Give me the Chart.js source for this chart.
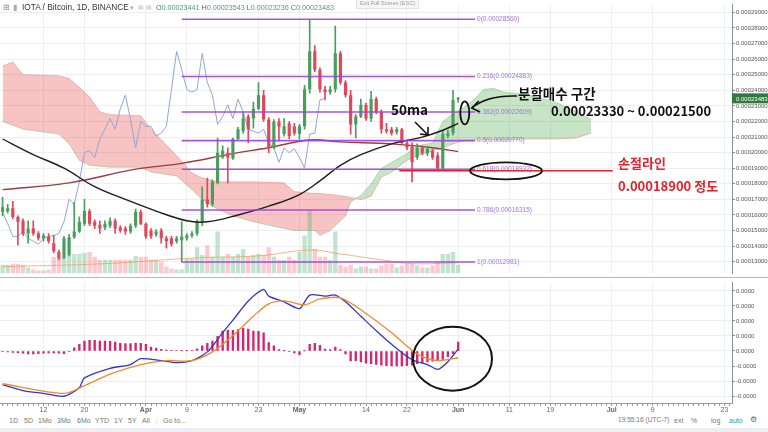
<!DOCTYPE html>
<html>
<head>
<meta charset="utf-8">
<script src="https://cdn.jsdelivr.net/npm/chart.js@4.4.0/dist/chart.umd.min.js"></script>
<style>
  html, body { margin: 0; padding: 0; background: #fff; }
  #wrap { position: relative; width: 768px; height: 432px; overflow: hidden; font-family: "Liberation Sans", Arial, sans-serif; }
  canvas { position: absolute; left: 0; }
  #price { top: 0; }
  #macd { top: 278px; }
  .t { position: absolute; white-space: nowrap; line-height: 1; }
  .hdr { font-size: 8.3px; color: #333; top: 3px; }
  .ohlc { font-size: 7.2px; color: #4b9d76; top: 4px; }
  .ohlc i { font-style: normal; color: #666; }
  .note { font-family: "Noto Sans CJK KR", "Noto Sans", sans-serif; font-weight: bold; color: #111; }
  .red { color: #e8202a; }
  .bar { font-size: 7px; color: #777; top: 417px; }
  #sep { position: absolute; left: 0; top: 277px; width: 768px; height: 1px; background: #b4b8be; }
  #foot { position: absolute; left: 0; top: 428px; width: 768px; height: 4px; background: #eceef1; }
  #exit { position: absolute; left: 356px; top: -1px; font-size: 5.5px; color: #999; background: #f6f6f6; border: 1px solid #e2e2e2; padding: 1px 3px; }
</style>
</head>
<body>
<div id="wrap">
  <canvas id="price" width="768" height="278"></canvas>
  <canvas id="macd" width="768" height="137"></canvas>
  <div id="sep"></div>
  <div id="foot"></div>

  <div class="t hdr" style="left:3px;color:#888">⊞</div>
  <div class="t hdr" style="left:13px;color:#aaa">▮</div>
  <div class="t hdr" style="left:22px">IOTA / Bitcoin, 1D, BINANCE</div>
  <div class="t hdr" style="left:130px;color:#aaa;font-size:7px;top:4px">▾</div>
  <div class="t hdr" style="left:138px;color:#ccc;font-size:6px;top:4px">▦ ▦</div>
  <div class="t ohlc" style="left:156px"><i>O</i>0.00023441 <i>H</i>0.00023543 <i>L</i>0.00023236 <i>C</i>0.00023483</div>
  <div id="exit" class="t">Exit Full Screen (ESC)</div>

  <div class="t note" style="left:518px;top:87px;font-size:13.5px">분할매수 구간</div>
  <div class="t note" style="left:551px;top:104px;font-size:13px">0.00023330 ~ 0.00021500</div>
  <div class="t note" style="left:391px;top:103px;font-size:13.5px">50ma</div>
  <div class="t note red" style="left:618px;top:156px;font-size:13px">손절라인</div>
  <div class="t note red" style="left:618px;top:179px;font-size:13px">0.00018900 정도</div>

  <div class="t bar" style="left:9px">1D</div>
  <div class="t bar" style="left:24px">5D</div>
  <div class="t bar" style="left:38px">1Mo</div>
  <div class="t bar" style="left:57px">3Mo</div>
  <div class="t bar" style="left:77px">6Mo</div>
  <div class="t bar" style="left:95px">YTD</div>
  <div class="t bar" style="left:114px">1Y</div>
  <div class="t bar" style="left:128px">5Y</div>
  <div class="t bar" style="left:142px">All</div>
  <div class="t bar" style="left:156px;color:#ddd">|</div>
  <div class="t bar" style="left:163px">Go to...</div>
  <div class="t bar" style="left:618px;font-size:6.6px">19:55:16 (UTC-7)</div>
  <div class="t bar" style="left:674px">ext</div>
  <div class="t bar" style="left:691px">%</div>
  <div class="t bar" style="left:711px">log</div>
  <div class="t bar" style="left:729px;color:#3d8bd6">auto</div>
  <div class="t bar" style="left:750px;color:#666;font-size:8px;top:416px">⚙</div>
</div>

<script>
// categories: one per day, Mar 4 – Jul 24 2018
const startDay = Date.UTC(2018, 2, 4);
const dayCount = 143;
const labels = [];
for (let i = 0; i < dayCount; i++) {
  labels.push(new Date(startDay + i * 864e5).toISOString().slice(0, 10));
}

const tickDates = ['2018-03-12', '2018-03-20', '2018-04-01', '2018-04-09', '2018-04-23', '2018-05-01',
  '2018-05-14', '2018-05-22', '2018-06-01', '2018-06-11', '2018-06-19', '2018-07-01', '2018-07-09', '2018-07-23'];
const tickTexts = ['12', '20', 'Apr', '9', '23', 'May', '14', '22', 'Jun', '11', '19', 'Jul', '9', '23'];
const monthTicks = ['Apr', 'May', 'Jun', 'Jul'];
const priceTicks = [13000, 14000, 15000, 16000, 17000, 18000, 19000, 20000, 21000,
  22000, 23000, 24000, 25000, 26000, 27000, 28000, 29000];
const macdTicks = [-3, -2, -1, 0, 1, 2, 3, 4];

// daily candles, prices in satoshi (1e-8 BTC)
const opens = [16188, 16250, 16438, 15875, 15625, 14813, 15125, 14813, 14500, 14625,
  14188, 13625, 13250, 13438, 14563, 14938, 15438, 16250, 15563, 15375,
  15188, 15313, 15625, 15188, 15125, 14938, 15313, 16188, 15438, 15000,
  14750, 15000, 14500, 14500, 14313, 14375, 14500, 14688, 14813, 15563,
  17000, 16688, 18063, 19688, 20000, 19625, 20875, 21375, 22313, 22188,
  22813, 23688, 22125, 20313, 22000, 21188, 21875, 21688, 21188, 21688,
  24063, 26500, 25313, 24063, 23875, 24063, 26375, 24500, 23688, 21813,
  22313, 23063, 22188, 23438, 22625, 21500, 21500, 21313, 21500, 20625,
  20438, 19688, 20313, 19938, 20125, 19813, 19000, 21063, 21250, 23441];
const highs = [17125, 16688, 16875, 15938, 15750, 15625, 15625, 14938, 14813, 14813,
  14688, 13750, 14625, 14750, 16813, 15875, 17000, 16375, 15688, 15625,
  15625, 15813, 15750, 15313, 15250, 15438, 16375, 16313, 15500, 15125,
  15063, 15125, 14625, 14625, 14625, 15563, 14813, 14938, 15688, 17813,
  18375, 18250, 20938, 20438, 20313, 20938, 21625, 22625, 22438, 23250,
  24500, 24000, 22250, 22125, 22188, 22188, 22000, 21875, 21813, 24313,
  28560, 26875, 25438, 24250, 24250, 28125, 26500, 24625, 24000, 22438,
  23438, 23188, 23938, 23563, 22750, 21875, 21625, 21625, 21563, 20750,
  20625, 20563, 20438, 20375, 20250, 20000, 21375, 21438, 24000, 23543];
const lows = [15938, 16125, 15750, 14063, 14688, 14188, 14688, 14375, 14313, 14188,
  13563, 13125, 13188, 13375, 14500, 14875, 15313, 15313, 15125, 14813,
  15063, 15188, 14813, 14875, 14750, 14813, 15188, 15375, 14500, 14500,
  14625, 14188, 13875, 14000, 14188, 12981, 14375, 14563, 14688, 15313,
  16500, 16563, 18000, 19625, 18063, 19563, 20813, 21250, 20625, 21563,
  22750, 22000, 20000, 20250, 20750, 21063, 20875, 21125, 20875, 21500,
  23813, 25188, 23875, 23375, 23750, 23875, 24375, 23563, 21188, 20938,
  22250, 22063, 22000, 22500, 21250, 21250, 21125, 21188, 20563, 20188,
  18125, 19563, 19875, 19813, 19563, 18875, 18875, 20938, 21125, 23236];
const closes = [16500, 16438, 15875, 15563, 14813, 15125, 14813, 14500, 14688, 14313,
  13688, 13250, 14500, 14563, 14938, 15563, 16250, 15438, 15313, 15125,
  15438, 15625, 15125, 15000, 14938, 15313, 16188, 15438, 14625, 14625,
  14938, 14500, 14313, 14125, 14500, 14625, 14688, 14813, 15563, 17000,
  16688, 18125, 20000, 20125, 19688, 20875, 21500, 22188, 21500, 22813,
  23688, 22125, 20313, 22000, 21688, 21688, 21063, 21250, 21688, 24063,
  26500, 25313, 24063, 23875, 24063, 26375, 24500, 23688, 21813, 22313,
  23063, 22188, 23438, 22625, 21500, 21375, 21250, 21500, 20625, 20313,
  19375, 20313, 20000, 20250, 19688, 19000, 21188, 21250, 23375, 23483];
const volumes = [9, 9, 10, 10, 9, 6, 4, 3, 3, 4,
  17, 17, 17, 19, 20, 20, 21, 22, 17, 14,
  14, 14, 14, 14, 14, 14, 18, 17, 17, 14,
  14, 12, 7, 5, 4, 4, 15, 15, 27, 19,
  29, 17, 43, 17, 20, 17, 20, 25, 17, 19,
  20, 19, 27, 17, 14, 14, 17, 14, 22, 39,
  65, 25, 17, 17, 14, 43, 9, 7, 9, 5,
  7, 7, 5, 5, 8, 10, 10, 6, 8, 10,
  10, 8, 6, 6, 8, 12, 20, 20, 22, 9];

// volume moving average (sparse readings)
const volMaIdx = [0, 20, 38, 50, 60, 66, 74, 80, 89];
const volMa = [7, 10, 16, 18, 24, 20, 14, 10, 11];

// Ichimoku cloud (leading spans), sparse readings
const cloudIdx = [0, 2, 4, 11, 13, 15, 17, 19, 21, 27, 29, 34, 37, 39, 42, 45, 49, 55, 57, 61, 62, 64, 67, 68, 69,
  70, 72, 74, 76, 79, 81, 84, 86, 88, 90, 92, 94, 96, 98, 102, 108, 112, 115];
const spanA = [22000, 21750, 21500, 21188, 20563, 19500, 19188, 19125, 19063, 19063, 18750, 18500, 17625, 17000, 16375,
  15938, 15563, 15125, 15000, 15000, 14688, 15000, 15938, 16813, 17063,
  17250, 18000, 19000, 19375, 19938, 20438, 20625, 22000, 22500, 22875, 23375, 24063, 24125, 23875, 23750, 23250, 22625, 22125];
const spanB = [25563, 25813, 25000, 24938, 24750, 24188, 23563, 22625, 22438, 22375, 21500, 19813, 18688, 18375, 18125,
  18125, 18125, 18063, 17500, 17375, 17375, 17313, 17188, 17125, 17063,
  17000, 17188, 18438, 18750, 19500, 19813, 20125, 20313, 20563, 20750, 20813, 20813, 20813, 20813, 20875, 20875, 20938, 21250];

// moving averages (sparse readings)
const ma50Idx = [0, 6, 12, 18, 24, 30, 36, 40, 46, 52, 58, 62, 66, 70, 76, 82, 86, 89];
const ma50 = [20875, 19875, 19000, 17813, 17000, 16250, 15625, 15563, 16000, 16563, 17313, 18188, 19188, 19875, 20563, 21000, 21438, 21875];
const maSlowIdx = [0, 13, 26, 35, 45, 52, 60, 66, 76, 84, 89];
const maSlow = [17625, 18063, 18938, 19313, 19938, 20313, 20813, 20688, 20563, 20313, 20063];
const chikouShift = 26;

// Fibonacci retracement and notes
const fibRatios = ['0', '0.236', '0.382', '0.5', '0.618', '0.786', '1'];
const fibLevels = [28560, 24883, 22609, 20770, 18932, 16315, 12981];
const fibFrom = 35, fibTo = 92.3;
const stopLevel = 18830, stopFrom = 77.5, stopTo = 119.2;
const buyZoneMid = 22550;

// MACD (units of 1e-6 BTC)
const macdHist = [-0.04, -0.06, -0.09, -0.11, -0.15, -0.19, -0.19, -0.17, -0.15, -0.13,
  -0.13, -0.15, -0.17, -0.04, 0.21, 0.45, 0.66, 0.71, 0.71, 0.66,
  0.66, 0.64, 0.60, 0.51, 0.49, 0.49, 0.53, 0.51, 0.45, 0.26,
  0.19, 0.11, 0.06, 0.04, 0.02, 0.01, 0.01, 0.04, 0.15, 0.34,
  0.51, 0.66, 0.98, 1.32, 1.37, 1.37, 1.43, 1.50, 1.45, 1.32,
  1.30, 1.20, 0.56, 0.34, 0.09, 0.01, -0.04, -0.13, -0.24, 0.01,
  0.45, 0.51, 0.38, 0.13, 0.09, 0.26, 0.09, -0.19, -0.66, -0.64,
  -0.73, -0.81, -0.85, -0.90, -0.94, -0.98, -1.00, -1.00, -1.00, -0.98,
  -0.94, -0.85, -0.77, -0.73, -0.68, -0.64, -0.56, -0.38, -0.17, 0.60];
const macdIdx = [0, 4, 8, 12, 15, 16, 21, 25, 27, 31, 34, 37, 40, 43, 45, 48, 51, 52, 55, 58, 60, 63, 65, 67, 70, 73, 76, 80, 83, 85, 87, 89];
const macdLine = [-2.24, -2.63, -2.82, -3.01, -2.44, -1.79, -1.15, -0.90, -0.51, -0.64, -0.77, -0.64, -0.06, 1.22, 2.05, 3.33,
  4.10, 3.65, 3.27, 2.82, 3.72, 3.65, 3.72, 3.27, 2.31, 1.35, 0.45, -0.58, -0.90, -1.22, -0.71, 0.13];
const signalIdx = [0, 12, 16, 21, 27, 32, 37, 41, 45, 49, 52, 55, 59, 62, 66, 71, 76, 81, 85, 89];
const signalLine = [-2.18, -2.82, -2.31, -1.54, -0.90, -0.64, -0.64, -0.06, 1.03, 2.31, 3.14, 3.33, 3.08, 3.46, 3.53, 2.50, 1.22, -0.19, -0.64, -0.45];

const upColor = '#4a9e5c', downColor = '#e0475a';
const gridColor = '#eceef1';
const axisFont = { family: '"Liberation Sans", Arial, sans-serif', size: 6 };

const toBtc = v => (v / 1e8).toFixed(8);
const pts = (idx, vals) => idx.map((k, j) => ({ x: labels[k], y: vals[j] }));
const isUp = opens.map((o, i) => closes[i] >= o);
const tickSet = new Set(tickDates.map(d => labels.indexOf(d)));

function fixWidth(scale) { scale.width = 36; }

const xGrid = {
  offset: false,
  drawTicks: false,
  color: ctx => (tickSet.has(ctx.index) ? gridColor : 'rgba(0,0,0,0)')
};

function ellipse(ctx, cx, cy, rx, ry) {
  ctx.beginPath();
  ctx.ellipse(cx, cy, rx, ry, 0, 0, Math.PI * 2);
  ctx.stroke();
}

const priceMarks = {
  id: 'priceMarks',
  afterDatasetsDraw(chart) {
    const { ctx, chartArea, scales: { x, y } } = chart;
    ctx.save();
    const x0 = x.getPixelForValue(fibFrom);
    const x1 = x.getPixelForValue(fibTo);
    ctx.font = '6.5px "Liberation Sans", Arial, sans-serif';
    ctx.textBaseline = 'middle';
    fibLevels.forEach((lv, k) => {
      const py = y.getPixelForValue(lv);
      ctx.strokeStyle = 'rgba(162,62,222,0.9)';
      ctx.lineWidth = 1.6;
      ctx.beginPath();
      ctx.moveTo(x0, py);
      ctx.lineTo(x1, py);
      ctx.stroke();
      ctx.fillStyle = '#a274dc';
      ctx.fillText(fibRatios[k] + '(' + toBtc(lv) + ')', x1 + 2, py);
    });

    // stop-loss line
    const sy = y.getPixelForValue(stopLevel);
    ctx.strokeStyle = '#e8202a';
    ctx.lineWidth = 1.5;
    ctx.beginPath();
    ctx.moveTo(x.getPixelForValue(stopFrom), sy);
    ctx.lineTo(x.getPixelForValue(stopTo), sy);
    ctx.stroke();

    // hand drawn marks
    ctx.strokeStyle = '#111';
    ctx.lineWidth = 1.8;
    const ex = x.getPixelForValue(90.3);
    ellipse(ctx, ex, y.getPixelForValue(buyZoneMid), 4.5, 11.5);
    ellipse(ctx, x1 + 31, y.getPixelForValue(fibLevels[4]) + 1.5, 36, 8.5);

    ctx.lineWidth = 1.6;
    ctx.beginPath();
    ctx.moveTo(517, 96);
    ctx.quadraticCurveTo(487, 95, ex + 7, 108);
    ctx.stroke();
    ctx.beginPath();
    ctx.moveTo(ex + 14, 101);
    ctx.lineTo(ex + 7, 108);
    ctx.lineTo(ex + 15, 112);
    ctx.stroke();

    ctx.beginPath();
    ctx.moveTo(415, 122);
    ctx.lineTo(428, 135);
    ctx.stroke();
    ctx.beginPath();
    ctx.moveTo(420, 134);
    ctx.lineTo(428, 135);
    ctx.lineTo(428, 127);
    ctx.stroke();

    // last price tag
    const last = closes[closes.length - 1];
    const ly = y.getPixelForValue(last);
    ctx.fillStyle = '#2f7a3c';
    ctx.fillRect(chartArea.right, ly - 5, chart.width - chartArea.right, 10);
    ctx.fillStyle = '#fff';
    ctx.font = '6px "Liberation Sans", Arial, sans-serif';
    ctx.fillText(toBtc(last), chartArea.right + 4, ly + 0.5);
    ctx.restore();
  }
};

const macdMarks = {
  id: 'macdMarks',
  afterDatasetsDraw(chart) {
    const { ctx, scales: { x, y } } = chart;
    ctx.save();
    ctx.strokeStyle = '#111';
    ctx.lineWidth = 2;
    ellipse(ctx, x.getPixelForValue(87.9), y.getPixelForValue(-0.51), 39.5, 32);
    ctx.restore();
  }
};

new Chart(document.getElementById('price'), {
  type: 'bar',
  data: {
    labels: labels,
    datasets: [
      {
        type: 'line', data: pts(cloudIdx, spanA), borderColor: 'rgba(90,170,90,0.45)', borderWidth: 0.8,
        pointRadius: 0, tension: 0, order: 20,
        fill: { target: 1, above: 'rgba(80,170,80,0.32)', below: 'rgba(235,80,80,0.34)' }
      },
      {
        type: 'line', data: pts(cloudIdx, spanB), borderColor: 'rgba(220,90,90,0.45)', borderWidth: 0.8,
        pointRadius: 0, tension: 0, order: 19
      },
      {
        data: volumes, yAxisID: 'yv', grouped: false, barPercentage: 0.85, categoryPercentage: 1,
        backgroundColor: isUp.map(u => (u ? 'rgba(76,175,110,0.34)' : 'rgba(240,80,100,0.3)')), order: 18
      },
      {
        type: 'line', data: pts(volMaIdx, volMa), yAxisID: 'yv', borderColor: 'rgba(240,150,90,0.8)',
        borderWidth: 0.9, pointRadius: 0, tension: 0.4, order: 17
      },
      {
        type: 'line', data: closes.slice(chikouShift), borderColor: '#8fa6d8', borderWidth: 1,
        pointRadius: 0, tension: 0, order: 15
      },
      {
        type: 'line', data: pts(maSlowIdx, maSlow), borderColor: '#9b3d3d', borderWidth: 1.4,
        pointRadius: 0, tension: 0.4, order: 14
      },
      {
        data: opens.map((o, i) => [lows[i], highs[i]]), grouped: false, barThickness: 1,
        backgroundColor: isUp.map(u => (u ? upColor : downColor)), order: 3
      },
      {
        data: opens.map((o, i) => [o, closes[i]]), grouped: false, barPercentage: 0.62, categoryPercentage: 1,
        minBarLength: 1, backgroundColor: isUp.map(u => (u ? upColor : downColor)), order: 2
      },
      {
        type: 'line', data: pts(ma50Idx, ma50), borderColor: '#1e1e1e', borderWidth: 1.4,
        pointRadius: 0, tension: 0.4, order: 1
      }
    ]
  },
  options: {
    responsive: false,
    animation: false,
    devicePixelRatio: 1,
    layout: { padding: 0 },
    plugins: { legend: { display: false }, tooltip: { enabled: false } },
    scales: {
      x: {
        offset: true,
        grid: xGrid,
        border: { display: false },
        ticks: { display: false, autoSkip: false },
        afterFit: s => { s.height = 2; }
      },
      y: {
        position: 'right',
        min: 12250,
        max: 29500,
        grid: { color: gridColor, tickColor: '#888', tickLength: 3 },
        border: { color: '#8c9096' },
        ticks: { padding: 1, color: '#555', font: axisFont, callback: v => toBtc(v) },
        afterBuildTicks: s => { s.ticks = priceTicks.map(v => ({ value: v })); },
        afterFit: fixWidth
      },
      yv: { display: false, min: 0, max: Math.max(...volumes) * 4.25 }
    }
  },
  plugins: [priceMarks]
});

new Chart(document.getElementById('macd'), {
  type: 'bar',
  data: {
    labels: labels,
    datasets: [
      { data: macdHist, backgroundColor: '#d6246e', barThickness: 1.7, order: 3 },
      {
        type: 'line', data: pts(macdIdx, macdLine), borderColor: '#3434c8', borderWidth: 1.3,
        pointRadius: 0, tension: 0.25, order: 2
      },
      {
        type: 'line', data: pts(signalIdx, signalLine), borderColor: '#f08a2c', borderWidth: 1.3,
        pointRadius: 0, tension: 0.3, order: 1
      }
    ]
  },
  options: {
    responsive: false,
    animation: false,
    devicePixelRatio: 1,
    layout: { padding: 0 },
    plugins: { legend: { display: false }, tooltip: { enabled: false } },
    scales: {
      x: {
        offset: true,
        grid: { offset: false, drawTicks: true, tickLength: 3, tickColor: '#999',
          color: ctx => (tickSet.has(ctx.index) ? gridColor : 'rgba(0,0,0,0)') },
        border: { color: '#999' },
        ticks: {
          autoSkip: false, maxRotation: 0, padding: 0, color: '#666',
          font: ctx => ({ family: '"Liberation Sans", Arial, sans-serif', size: 7,
            weight: monthTicks.includes(tickTexts[tickDates.indexOf(labels[ctx.index])]) ? 'bold' : 'normal' }),
          callback: (v, i) => {
            const k = tickDates.indexOf(labels[i]);
            return k >= 0 ? tickTexts[k] : '';
          }
        },
        afterFit: s => { s.height = 12; }
      },
      y: {
        position: 'right',
        min: -3.46,
        max: 4.55,
        grid: { color: gridColor, tickColor: '#888', tickLength: 3 },
        border: { color: '#8c9096' },
        ticks: { padding: 1, color: '#555', font: axisFont, callback: v => (v * 1e-6).toFixed(4) },
        afterBuildTicks: s => { s.ticks = macdTicks.map(v => ({ value: v })); },
        afterFit: fixWidth
      }
    }
  },
  plugins: [macdMarks]
});
</script>
</body>
</html>
